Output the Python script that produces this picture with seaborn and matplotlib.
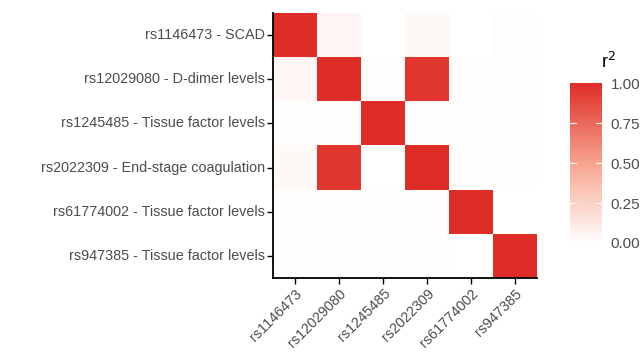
import numpy as np
import pandas as pd
import matplotlib
matplotlib.use("Agg")
import matplotlib.pyplot as plt
from matplotlib.colors import LinearSegmentedColormap
import seaborn as sns

# %% data
snps = ["rs1146473", "rs12029080", "rs1245485", "rs2022309", "rs61774002", "rs947385"]
traits = ["SCAD", "D-dimer levels", "Tissue factor levels", "End-stage coagulation",
          "Tissue factor levels", "Tissue factor levels"]
row_labels = [f"{s} - {t}" for s, t in zip(snps, traits)]

r2_rs1146473 = [1.00, 0.05, 0.00, 0.04, 0.00, 0.015]
r2_rs12029080 = [0.05, 1.00, 0.008, 0.96, 0.008, 0.015]
r2_rs1245485 = [0.006, 0.008, 1.00, 0.008, 0.008, 0.015]
r2_rs2022309 = [0.04, 0.96, 0.00, 1.00, 0.008, 0.015]
r2_rs61774002 = [0.004, 0.006, 0.006, 0.006, 1.00, 0.00]
r2_rs947385 = [0.015, 0.015, 0.015, 0.015, 0.00, 1.00]

r2 = pd.DataFrame([r2_rs1146473, r2_rs12029080, r2_rs1245485,
                   r2_rs2022309, r2_rs61774002, r2_rs947385],
                  index=row_labels, columns=snps)

# %% plot
sns.set_theme(style="white")
plt.rcParams["font.family"] = ["Liberation Sans", "DejaVu Sans"]
grey = "#4D4D4D"

# white -> red, with a slightly warm midpoint (as ggplot's Lab interpolation)
cmap = LinearSegmentedColormap.from_list("wr", ["#FFFFFF", "#F7A48F", "#DE2D26"])

fig = plt.figure(figsize=(6.44, 3.6), dpi=100)
ax = fig.add_axes([0.424, 0.228, 0.410, 0.736])
cax = fig.add_axes([0.885, 0.325, 0.050, 0.444])

sns.heatmap(r2, ax=ax, cmap=cmap, vmin=0, vmax=1, cbar_ax=cax,
            linewidths=0, square=False)

ax.set_xlabel("")
ax.set_ylabel("")
for side in ["left", "bottom"]:
    ax.spines[side].set_visible(True)
    ax.spines[side].set_color("black")
    ax.spines[side].set_linewidth(1.3)
ax.tick_params(axis="both", length=4, width=1, color="black",
               labelsize=10.4, labelcolor=grey, bottom=True, left=True, pad=2)
ax.set_xticklabels(snps, rotation=45, ha="right", rotation_mode="anchor")
ax.set_yticklabels(row_labels, rotation=0)

# colorbar styling
cbar = ax.collections[0].colorbar
cbar.outline.set_visible(False)
cbar.set_ticks([0, 0.25, 0.5, 0.75, 1.0])
cbar.set_ticklabels(["0.00", "0.25", "0.50", "0.75", "1.00"])
cax.tick_params(length=0, labelsize=11, labelcolor=grey, pad=6)
for t in [0.25, 0.5, 0.75]:
    cax.plot([0, 0.2], [t, t], color="white", lw=0.8, transform=cax.get_yaxis_transform())
    cax.plot([0.8, 1.0], [t, t], color="white", lw=0.8, transform=cax.get_yaxis_transform())
cax.text(0.95, 1.07, "r$^2$", fontsize=13, color="black", ha="left", va="bottom",
         transform=cax.transAxes)

plt.savefig("out.png", dpi=100)
